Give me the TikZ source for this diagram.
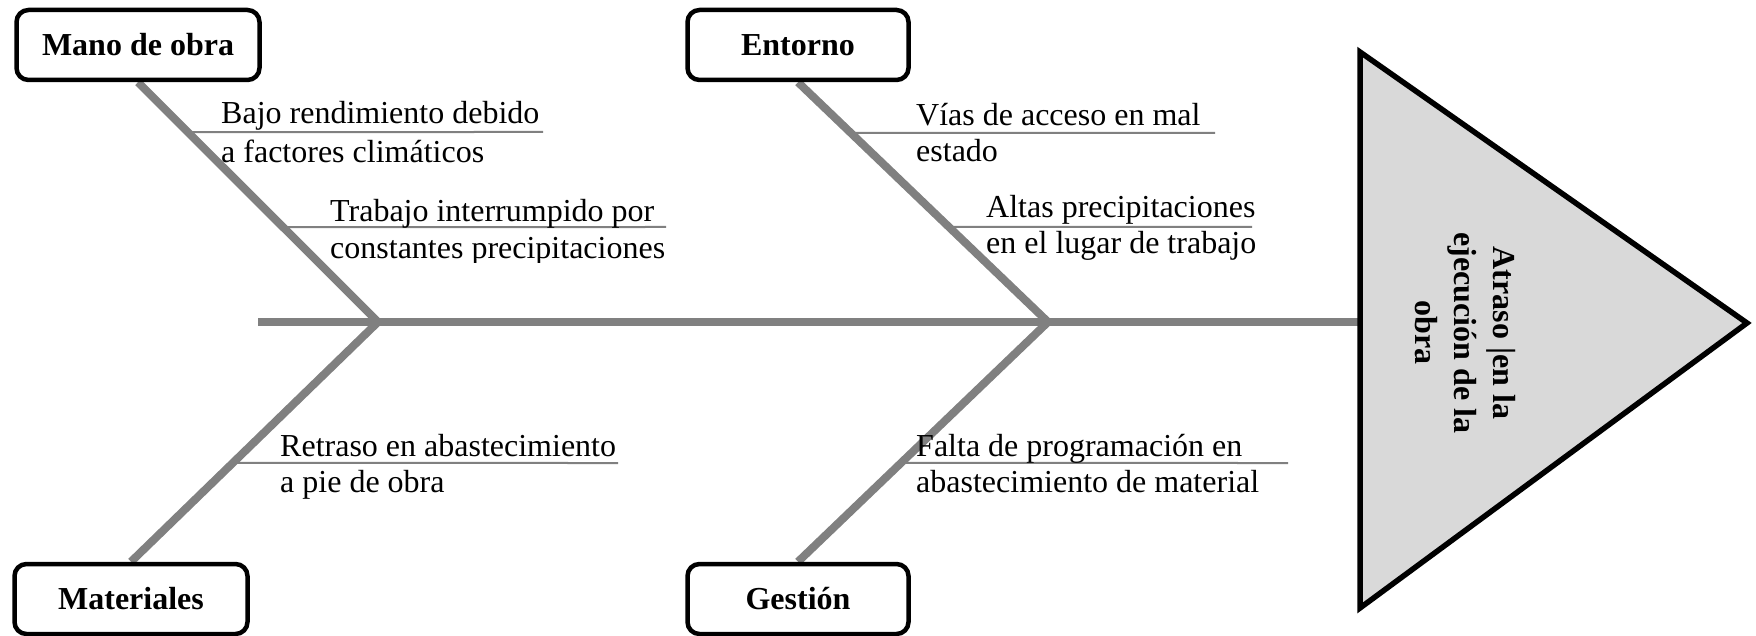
\documentclass[tikz,border=0pt]{standalone}
\usepackage{fontspec}
\setmainfont{Liberation Serif}
\pgfdeclarelayer{bg}
\pgfsetlayers{bg,main}
\definecolor{bonegray}{RGB}{128,128,128}
\definecolor{headfill}{RGB}{217,217,217}
\begin{document}
\begin{tikzpicture}[x=1pt,y=-1pt,
  bone/.style={draw=bonegray,line width=8pt},
  subline/.style={draw=bonegray,line width=2pt},
  catbox/.style={draw=black,line width=4.5pt,rounded corners=12pt,fill=white,
    minimum width=#1,minimum height=70pt,inner sep=0pt,
    font=\fontsize{32}{36}\selectfont\bfseries},
  lbl/.style={anchor=base west,inner sep=0pt,font=\fontsize{32}{36}\selectfont}
]
\useasboundingbox (0,0) rectangle (1756,636);

% category boxes
\node[catbox=243] (mano) at (138,45) {Mano de obra};
\node[catbox=221] (entorno) at (798,45) {Entorno};
\node[catbox=233] (mat) at (131,599) {Materiales};
\node[catbox=221] (gest) at (798,599) {Gestión};

% spine and head
\coordinate (tail) at (258,322);
\coordinate (j1) at (378,322);
\coordinate (j2) at (1048,322);
\coordinate (ha) at (1360,52);
\coordinate (hb) at (1747,323);
\coordinate (hc) at (1360,608);
\coordinate (hm) at (1360,322);

\begin{pgfonlayer}{bg}
\draw[bone] (tail) -- (hm);
\draw[bone] (mano.south) -- (j1);
\draw[bone] (mat.north) -- (j1);
\draw[bone] (entorno.south) -- (j2);
\draw[bone] (gest.north) -- (j2);
\end{pgfonlayer}

\draw[line width=5.5pt,fill=headfill,line join=miter] (ha) -- (hb) -- (hc) -- cycle;
\node[rotate=-90,align=center,inner sep=0pt,
  font=\fontsize{32}{39}\selectfont\bfseries] (efecto) at (1465,333)
  {Atraso |en la\\ejecución de la\\obra};

% sub-causes
\coordinate (e1) at (543,132);
\coordinate (e2) at (666,227);
\coordinate (e3) at (1215,133);
\coordinate (e4) at (1252,227);
\coordinate (e5) at (618,463);
\coordinate (e6) at (1288,463);
\coordinate (s1) at (intersection cs: first line={(mano.south)--(j1)}, second line={(0,132)--(e1)});
\coordinate (s2) at (intersection cs: first line={(mano.south)--(j1)}, second line={(0,227)--(e2)});
\coordinate (s3) at (intersection cs: first line={(entorno.south)--(j2)}, second line={(0,133)--(e3)});
\coordinate (s4) at (intersection cs: first line={(entorno.south)--(j2)}, second line={(0,227)--(e4)});
\coordinate (s5) at (intersection cs: first line={(mat.north)--(j1)}, second line={(0,463)--(e5)});
\coordinate (s6) at (intersection cs: first line={(gest.north)--(j2)}, second line={(0,463)--(e6)});
\draw[subline] (s1) -- (e1);
\draw[subline] (s2) -- (e2);
\draw[subline] (s3) -- (e3);
\draw[subline] (s4) -- (e4);
\draw[subline] (s5) -- (e5);
\draw[subline] (s6) -- (e6);

\node[lbl] (c1a) at (221,124) {Bajo rendimiento debido};
\node[lbl] (c1b) at (221,163) {a factores climáticos};
\node[lbl] (c2a) at (330,222) {Trabajo interrumpido por};
\begin{scope}
\clip (0,0) rectangle (1756,263);
\node[lbl] (c2b) at (330,259) {constantes precipitaciones};
\end{scope}
\node[lbl] (c3a) at (916,126) {Vías de acceso en mal};
\node[lbl] (c3b) at (916,162) {estado};
\node[lbl] (c4a) at (986,218) {Altas precipitaciones};
\node[lbl] (c4b) at (986,254) {en el lugar de trabajo};
\node[lbl] (c5a) at (280,456) {Retraso en abastecimiento};
\node[lbl] (c5b) at (280,492) {a pie de obra};
\node[lbl] (c6a) at (916,456) {Falta de programación en};
\node[lbl] (c6b) at (916,492) {abastecimiento de material};
\end{tikzpicture}
\end{document}
